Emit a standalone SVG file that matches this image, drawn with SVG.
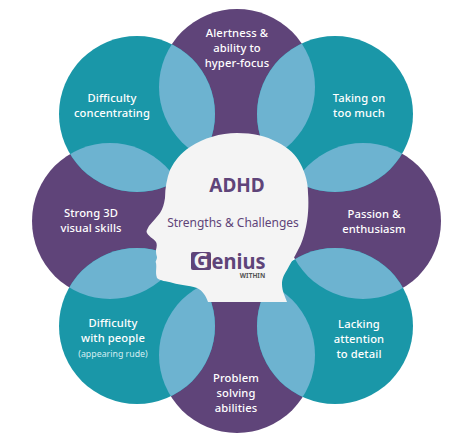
<svg xmlns="http://www.w3.org/2000/svg" width="474" height="447" viewBox="0 0 474 447">
<style>
.t{fill:#1a97a8}.p{fill:#5f4479}.l{fill:#6db3d0}
text{font-family:"Noto Sans","Open Sans",sans-serif;text-anchor:middle}
.c{font-size:11.2px;font-weight:500;fill:#fff;letter-spacing:.1px}
</style>
<defs>
<clipPath id="c1"><circle cx="237" cy="87" r="78"/></clipPath>
<clipPath id="c2"><circle cx="363" cy="221" r="78"/></clipPath>
<clipPath id="c3"><circle cx="237" cy="355" r="78"/></clipPath>
<clipPath id="c4"><circle cx="110" cy="221" r="78"/></clipPath>
</defs>
<rect width="474" height="447" fill="#fff"/>
<g id="circles">
<circle class="p" cx="237" cy="87" r="78"/>
<circle class="p" cx="363" cy="221" r="78"/>
<circle class="p" cx="237" cy="355" r="78"/>
<circle class="p" cx="110" cy="221" r="78"/>
<circle class="t" cx="335" cy="114" r="78"/>
<circle class="t" cx="335" cy="326" r="78"/>
<circle class="t" cx="137" cy="326" r="78"/>
<circle class="t" cx="137" cy="114" r="78"/>
</g>
<g id="overlaps">
<circle class="l" cx="335" cy="114" r="78" clip-path="url(#c1)"/>
<circle class="l" cx="137" cy="114" r="78" clip-path="url(#c1)"/>
<circle class="l" cx="335" cy="114" r="78" clip-path="url(#c2)"/>
<circle class="l" cx="335" cy="326" r="78" clip-path="url(#c2)"/>
<circle class="l" cx="335" cy="326" r="78" clip-path="url(#c3)"/>
<circle class="l" cx="137" cy="326" r="78" clip-path="url(#c3)"/>
<circle class="l" cx="137" cy="326" r="78" clip-path="url(#c4)"/>
<circle class="l" cx="137" cy="114" r="78" clip-path="url(#c4)"/>
</g>
<g id="head">
<path fill="#f4f4f4" d="M237 133C253 133 266 136 277 142C289 148 296 155 300 163C306 174 308 184 308 193C309 206 308 218 306 227C304 236 302 243 298 250C294 258 290 264 287 270C283 276 282 280 282 284C282 291 285 296 287 302L208 302C206 296 203 291 197 288C188 285 180 285 173 283C166 281 160 281 157 278C155 272 157 268 156 263C155 261 157 260 157 257C156 254 156 252 156 250C157 246 157 244 156 242C153 238 148 236 147 233C146 231 147 230 149 226C153 221 157 217 160 213C163 208 164 204 165 198C165 188 167 178 170 170C175 160 181 153 190 147C204 138 220 133 237 133Z"/>
<text x="237" y="192" font-size="19" font-weight="700" style="fill:#5f4479">ADHD</text>
<text x="233" y="227" font-size="12" style="fill:#5f4479">Strengths &amp; Challenges</text>
</g>
<g id="logo">
<rect x="191" y="252" width="20" height="18" rx="2" class="p"/>
<text x="201" y="268" font-size="21" font-weight="700" style="fill:#f4f4f4">G</text>
<text x="238.500" y="269" font-size="21" font-weight="700" textLength="54" lengthAdjust="spacingAndGlyphs" style="fill:#5f4479">enius</text>
<text x="252.500" y="278" font-size="6.500" font-weight="700" style="fill:#555">WITHIN</text>
</g>
<g id="n1"><text class="c" x="237" y="37">Alertness &amp;</text><text class="c" x="237" y="52">ability to</text><text class="c" x="237" y="67">hyper-focus</text></g>
<g id="n2"><text class="c" x="359" y="102">Taking on</text><text class="c" x="359" y="117">too much</text></g>
<g id="n3"><text class="c" x="374" y="218">Passion &amp;</text><text class="c" x="374" y="233">enthusiasm</text></g>
<g id="n4"><text class="c" x="359" y="328">Lacking</text><text class="c" x="359" y="343">attention</text><text class="c" x="359" y="358">to detail</text></g>
<g id="n5"><text class="c" x="236" y="382">Problem</text><text class="c" x="236" y="397">solving</text><text class="c" x="236" y="412">abilities</text></g>
<g id="n6"><text class="c" x="113" y="327">Difficulty</text><text class="c" x="113" y="342">with people</text><text x="113" y="357" font-size="8.800" style="fill:#d5eef2">(appearing rude)</text></g>
<g id="n7"><text class="c" x="91" y="217">Strong 3D</text><text class="c" x="91" y="232">visual skills</text></g>
<g id="n8"><text class="c" x="112" y="102">Difficulty</text><text class="c" x="112" y="117">concentrating</text></g>
</svg>
